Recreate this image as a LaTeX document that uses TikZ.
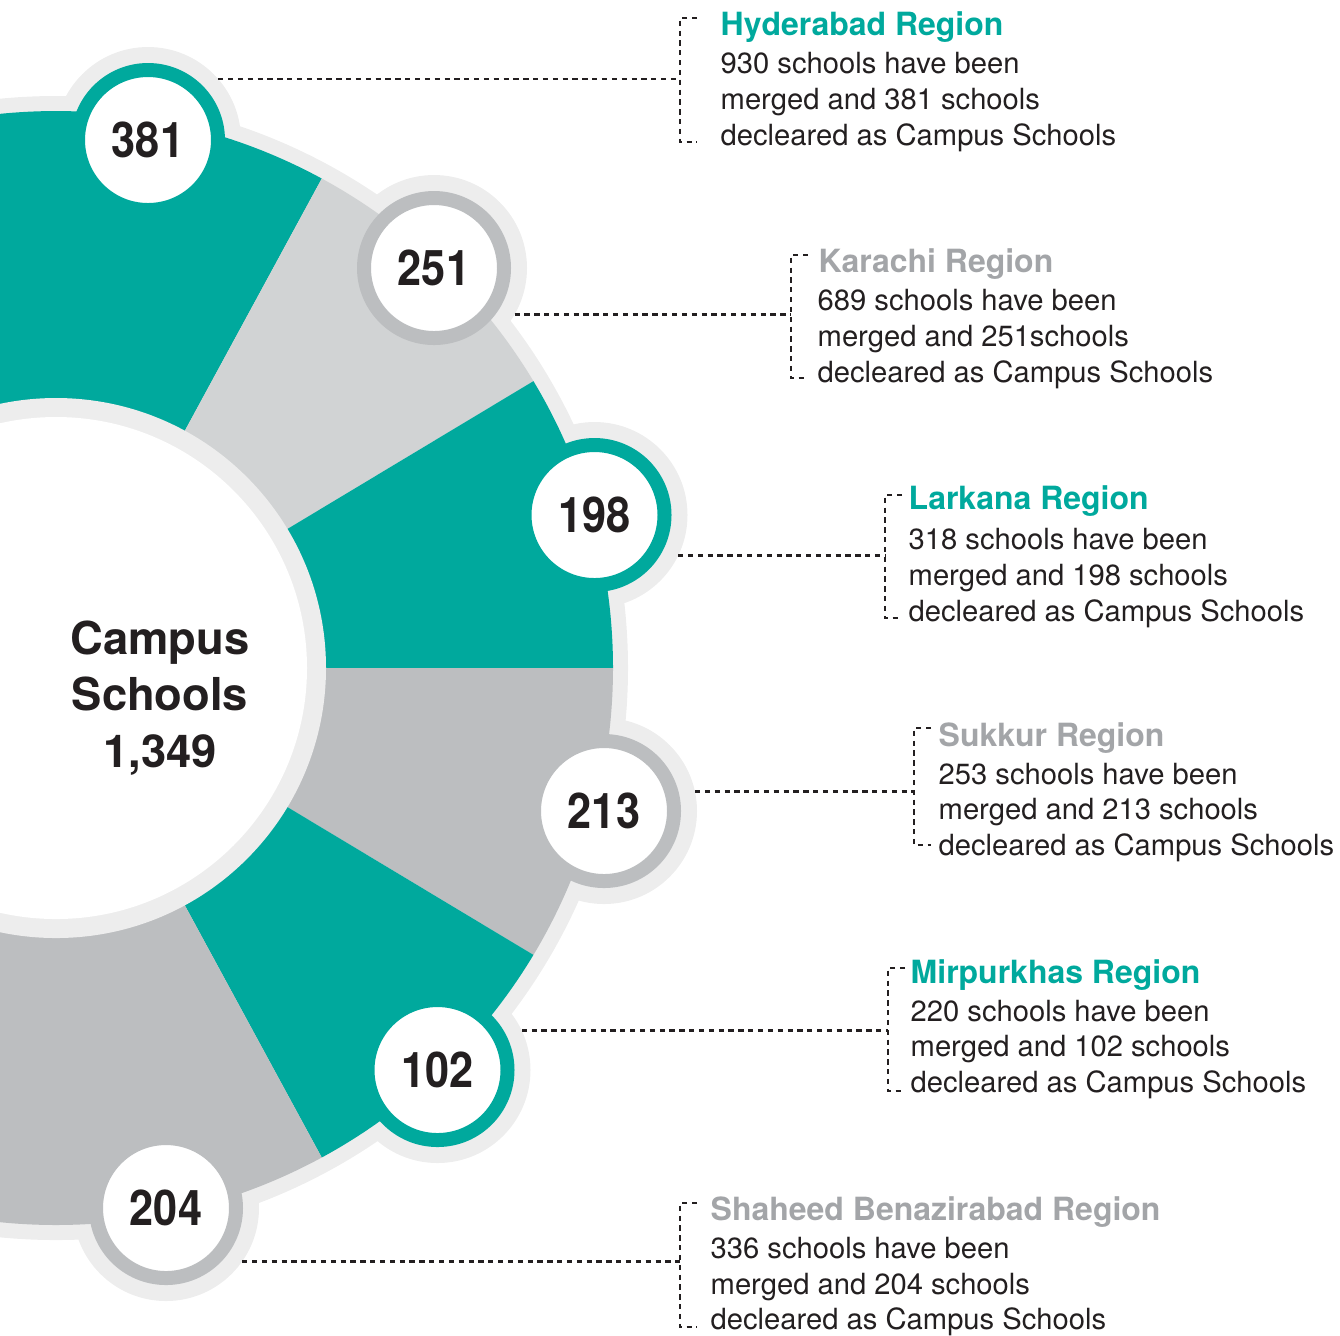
\documentclass[tikz,border=0pt]{standalone}
\usepackage{fontspec}
\setmainfont{TeX Gyre Heros}
\usetikzlibrary{positioning}
\definecolor{tealA}{HTML}{00A99D}
\definecolor{grayL}{HTML}{D1D3D4}
\definecolor{grayD}{HTML}{BCBEC0}
\definecolor{haloGray}{HTML}{EDEDED}
\definecolor{darkText}{HTML}{231F20}
\definecolor{headGray}{HTML}{A3A5A8}
\pgfdeclarelayer{background}
\pgfsetlayers{background,main}

\begin{document}
\begin{tikzpicture}[
	halonode/.style={circle, fill=haloGray, minimum size=1.86cm, inner sep=0pt, outer sep=0pt},
	tealnum/.style={circle, draw=tealA, line width=0.14cm, fill=white, minimum size=1.40cm, inner sep=0pt, text=darkText, font=\fontsize{14}{14}\selectfont\bfseries},
	graynum/.style={tealnum, draw=grayD},
	heading/.style={anchor=base west, inner sep=0pt, font=\fontsize{9.1}{11}\selectfont\bfseries},
	infotext/.style={anchor=north west, inner sep=0pt, align=left, text=darkText, font=\fontsize{8.3}{10.24}\selectfont},
	centertext/.style={align=center, inner sep=0pt, text=darkText, font=\fontsize{12.9}{16.1}\selectfont\bfseries},
	dotline/.style={draw=darkText, line width=0.75pt, dash pattern=on 1.5pt off 1.3pt},
	]
	\useasboundingbox (0,0) rectangle (13.40,-13.35);
	\coordinate (c) at (0.56,-6.68);

	\begin{pgfonlayer}{background}
	%Rings
	\fill[haloGray] (c) circle (5.72);
	\node[halonode] (h381) at (1.48,-1.40) {};
	\node[halonode] (h251) at (4.34,-2.68) {};
	\node[halonode] (h198) at (5.945,-5.15) {};
	\node[halonode] (h213) at (6.04,-8.11) {};
	\node[halonode] (h102) at (4.375,-10.70) {};
	\node[halonode] (h204) at (1.66,-12.08) {};
	%Sectors
	\fill[tealA] (c) -- ++(61.5:5.57) arc[start angle=61.5, end angle=120, radius=5.57] -- cycle;
	\fill[grayL] (c) -- ++(31:5.57) arc[start angle=31, end angle=61.5, radius=5.57] -- cycle;
	\fill[tealA] (c) -- ++(0:5.57) arc[start angle=0, end angle=31, radius=5.57] -- cycle;
	\fill[grayD] (c) -- ++(-31:5.57) arc[start angle=-31, end angle=0, radius=5.57] -- cycle;
	\fill[tealA] (c) -- ++(-61.5:5.57) arc[start angle=-61.5, end angle=-31, radius=5.57] -- cycle;
	\fill[grayD] (c) -- ++(-120:5.57) arc[start angle=-120, end angle=-61.5, radius=5.57] -- cycle;
	%Centre
	\fill[haloGray] (c) circle (2.70);
	\fill[white] (c) circle (2.51);
	\end{pgfonlayer}

	%Nodes
	\node[centertext] (campus) at (1.60,-6.98) {Campus\\Schools\\1,349};
	\node[tealnum] (n381) at (h381) {\scalebox{0.88}[1]{381}};
	\node[graynum] (n251) at (h251) {\scalebox{0.88}[1]{251}};
	\node[tealnum] (n198) at (h198) {\scalebox{0.88}[1]{198}};
	\node[graynum] (n213) at (h213) {\scalebox{0.88}[1]{213}};
	\node[tealnum] (n102) at (h102) {\scalebox{0.88}[1]{102}};
	\node[graynum] (n204) at (h204) {\scalebox{0.88}[1]{204}};

	\node[heading, text=tealA] (reg381) at (7.20,-0.35) {Hyderabad Region};
	\node[infotext] (info381) at (7.20,-0.52) {930 schools have been\\merged and 381 schools\\decleared as Campus Schools};
	\node[heading, text=headGray] (reg251) at (8.18,-2.72) {Karachi Region};
	\node[infotext] (info251) at (8.17,-2.89) {689 schools have been\\merged and 251schools\\decleared as Campus Schools};
	\node[heading, text=tealA] (reg198) at (9.08,-5.09) {Larkana Region};
	\node[infotext] (info198) at (9.08,-5.28) {318 schools have been\\merged and 198 schools\\decleared as Campus Schools};
	\node[heading, text=headGray] (reg213) at (9.38,-7.46) {Sukkur Region};
	\node[infotext] (info213) at (9.38,-7.62) {253 schools have been\\merged and 213 schools\\decleared as Campus Schools};
	\node[heading, text=tealA] (reg102) at (9.10,-9.83) {Mirpurkhas Region};
	\node[infotext] (info102) at (9.10,-9.99) {220 schools have been\\merged and 102 schools\\decleared as Campus Schools};
	\node[heading, text=headGray] (reg204) at (7.10,-12.20) {Shaheed Benazirabad Region};
	\node[infotext] (info204) at (7.10,-12.36) {336 schools have been\\merged and 204 schools\\decleared as Campus Schools};

	%Brackets
	\coordinate (k381t) at (6.80,-0.18);   \coordinate (k381b) at (6.80,-1.42);
	\coordinate (k251t) at (7.91,-2.55);   \coordinate (k251b) at (7.91,-3.78);
	\coordinate (k198t) at (8.85,-4.95);   \coordinate (k198b) at (8.85,-6.18);
	\coordinate (k213t) at (9.14,-7.28);   \coordinate (k213b) at (9.14,-8.45);
	\coordinate (k102t) at (8.88,-9.68);   \coordinate (k102b) at (8.88,-10.91);
	\coordinate (k204t) at (6.80,-12.03);  \coordinate (k204b) at (6.80,-13.27);
	\draw[dotline] ([xshift=0.17cm]k381t) -- (k381t) -- (k381b) -- ([xshift=0.17cm]k381b);
	\draw[dotline] ([xshift=0.17cm]k251t) -- (k251t) -- (k251b) -- ([xshift=0.17cm]k251b);
	\draw[dotline] ([xshift=0.17cm]k198t) -- (k198t) -- (k198b) -- ([xshift=0.17cm]k198b);
	\draw[dotline] ([xshift=0.17cm]k213t) -- (k213t) -- (k213b) -- ([xshift=0.17cm]k213b);
	\draw[dotline] ([xshift=0.17cm]k102t) -- (k102t) -- (k102b) -- ([xshift=0.17cm]k102b);
	\draw[dotline] ([xshift=0.17cm]k204t) -- (k204t) -- (k204b) -- ([xshift=0.17cm]k204b);

	%Lines
	\draw[dotline] (h381.41.3) -- (h381.41.3 -| k381t);
	\draw[dotline] (h251.-30.7) -- (h251.-30.7 -| k251t);
	\draw[dotline] (h198.-26.5) -- (h198.-26.5 -| k198t);
	\draw[dotline] (h213.12.3) -- (h213.12.3 -| k213t);
	\draw[dotline] (h102.25.9) -- (h102.25.9 -| k102t);
	\draw[dotline] (h204.-35.8) -- (h204.-35.8 -| k204t);
\end{tikzpicture}
\end{document}
